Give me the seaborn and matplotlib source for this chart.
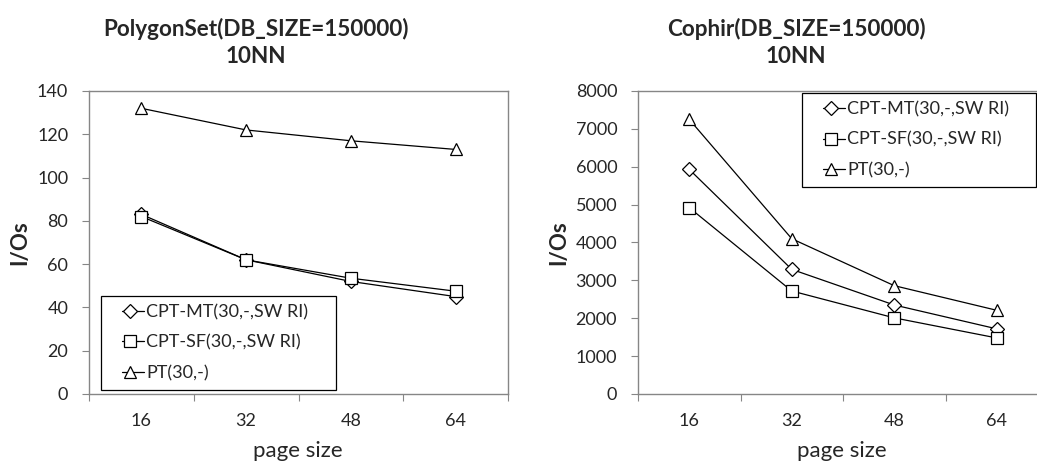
import matplotlib
matplotlib.use("Agg")
import matplotlib.pyplot as plt
from matplotlib.legend_handler import HandlerLine2D
from matplotlib.lines import Line2D
import seaborn as sns
import numpy as np
import pandas as pd

# Page sizes on the x axis (categorical)
page_sizes = ["16", "32", "48", "64"]

series_names = ["CPT-MT(30,-,SW RI)", "CPT-SF(30,-,SW RI)", "PT(30,-)"]
series_markers = ["D", "s", "^"]

# PolygonSet I/Os
poly_cpt_mt = [83, 62, 52, 45]
poly_cpt_sf = [82, 62, 53.5, 47.5]
poly_pt = [132, 122, 117, 113]

# Cophir I/Os
cophir_cpt_mt = [5930, 3290, 2350, 1720]
cophir_cpt_sf = [4920, 2720, 2010, 1480]
cophir_pt = [7250, 4100, 2860, 2210]

sns.set_theme(style="white")
plt.rcParams["font.family"] = ["Lato", "DejaVu Sans"]

FS_TICK = 13
FS_LEG = 13
FS_TITLE = 16.2
FS_YLAB = 16
FS_XLAB = 16
GRAY = "#868686"
W, H = 1037, 462


class IndentedLineHandler(HandlerLine2D):
    """Legend key: a short line in the right part of the key box with the
    marker placed on it, a little before the label."""

    def __init__(self, line_start=0.36, marker_pos=0.6, **kw):
        super().__init__(**kw)
        self.line_start = line_start
        self.marker_pos = marker_pos

    def create_artists(self, legend, orig_handle, xdescent, ydescent,
                       width, height, fontsize, trans):
        y = (height - ydescent) / 2
        x0 = -xdescent + self.line_start * width
        x1 = -xdescent + width
        xm = -xdescent + self.marker_pos * width
        line = Line2D([x0, x1], [y, y])
        self.update_prop(line, orig_handle, legend)
        line.set_marker("None")
        mark = Line2D([xm], [y])
        self.update_prop(mark, orig_handle, legend)
        mark.set_linestyle("None")
        line.set_transform(trans)
        mark.set_transform(trans)
        return [line, mark]


def make_frame(vals):
    rows = []
    for name, ys in zip(series_names, vals):
        for i, (p, y) in enumerate(zip(page_sizes, ys)):
            rows.append({"pos": i, "page": p, "series": name, "ios": y})
    return pd.DataFrame(rows)


def draw(ax, df, ymax, ystep):
    for name, mk in zip(series_names, series_markers):
        sub = df[df["series"] == name]
        ms = 7.5 if mk == "D" else 9
        sns.lineplot(data=sub, x="pos", y="ios", ax=ax, color="black",
                     marker=mk, markersize=ms, markerfacecolor="white",
                     markeredgecolor="black", markeredgewidth=0.9,
                     linewidth=0.9, label=name)
    ax.set_xlim(-0.5, 3.5)
    ax.set_ylim(0, ymax)
    ax.set_xticks(range(len(page_sizes)))
    ax.set_xticklabels(page_sizes)
    ax.set_xticks(np.arange(-0.5, 3.6, 1.0), minor=True)
    ax.set_yticks(np.arange(0, ymax + 1, ystep))
    ax.tick_params(axis="x", which="major", length=0, labelsize=FS_TICK, pad=14)
    ax.tick_params(axis="x", which="minor", length=5, width=0.8,
                   color=GRAY, direction="out", bottom=True)
    ax.tick_params(axis="y", length=5, width=0.8, color=GRAY,
                   direction="out", left=True, labelsize=FS_TICK, pad=10)
    for s in ax.spines.values():
        s.set_color(GRAY)
        s.set_linewidth(1.0)
    ax.set_xlabel("")
    ax.set_ylabel("")


fig = plt.figure(figsize=(W / 100, H / 100), dpi=100)
ax1 = fig.add_axes([89 / W, 1 - 394 / H, (508 - 89) / W, (394 - 91) / H])
ax2 = fig.add_axes([638 / W, 1 - 394 / H, (1048 - 638) / W, (394 - 91) / H])

draw(ax1, make_frame([poly_cpt_mt, poly_cpt_sf, poly_pt]), 140, 20)
draw(ax2, make_frame([cophir_cpt_mt, cophir_cpt_sf, cophir_pt]), 8000, 1000)

leg_kw = dict(loc="upper left", mode="expand", frameon=True, fancybox=False,
              framealpha=1, edgecolor="black", fontsize=FS_LEG,
              handlelength=1.94, handletextpad=0.12, labelspacing=0.8,
              borderpad=0.45, borderaxespad=0, bbox_transform=fig.transFigure,
              handler_map={Line2D: IndentedLineHandler()})
lh = 92 / H
l1 = ax1.legend(bbox_to_anchor=(101 / W, 1 - 296 / H - lh, (336 - 101) / W, lh),
                **leg_kw)
l2 = ax2.legend(bbox_to_anchor=(802 / W, 1 - 93 / H - lh, (1036 - 802) / W, lh),
                **leg_kw)
for lg in (l1, l2):
    lg.get_frame().set_linewidth(0.9)

# Titles, axis labels
fig.text(256 / W, 1 - 42 / H, "PolygonSet(DB_SIZE=150000)\n10NN", ha="center",
         va="center", fontsize=FS_TITLE, fontweight="bold", linespacing=1.35)
fig.text(796 / W, 1 - 42 / H, "Cophir(DB_SIZE=150000)\n10NN", ha="center",
         va="center", fontsize=FS_TITLE, fontweight="bold", linespacing=1.35)
fig.text(20 / W, 1 - 243 / H, "I/Os", rotation=90, ha="center", va="center",
         fontsize=FS_YLAB, fontweight="bold")
fig.text(559 / W, 1 - 243 / H, "I/Os", rotation=90, ha="center", va="center",
         fontsize=FS_YLAB, fontweight="bold")
fig.text(298 / W, 0.002, "page size", ha="center", va="bottom", fontsize=FS_XLAB)
fig.text(842 / W, 0.002, "page size", ha="center", va="bottom", fontsize=FS_XLAB)

fig.savefig("out.png", dpi=100)
